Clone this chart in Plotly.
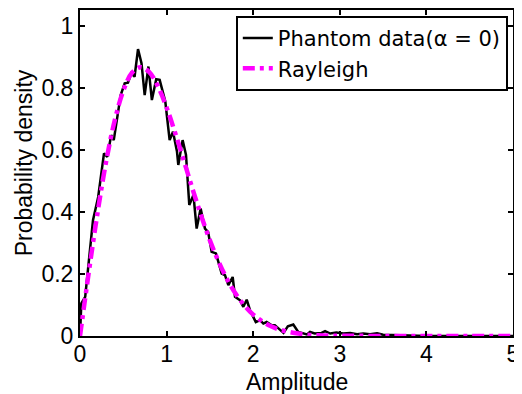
import plotly.graph_objects as go

# Phantom data (alpha = 0)
phantom_x = [0.0, 0.015, 0.06, 0.15, 0.21, 0.277, 0.315, 0.36, 0.39, 0.47, 0.516, 0.554,
             0.593, 0.63, 0.67, 0.71, 0.747, 0.79, 0.83, 0.88, 0.92, 0.985, 1.035, 1.074,
             1.12, 1.135, 1.185, 1.224, 1.262, 1.31, 1.347, 1.393, 1.443, 1.48, 1.52, 1.57,
             1.636, 1.674, 1.713, 1.763, 1.79, 1.848, 1.886, 1.925, 1.963, 2.0, 2.03, 2.08,
             2.117, 2.155, 2.21, 2.25, 2.29, 2.35, 2.40, 2.463, 2.52, 2.58, 2.62, 2.656,
             2.71, 2.79, 2.83, 2.89, 2.96, 3.04, 3.12, 3.2, 3.27, 3.35, 3.43, 3.5,
             3.6, 3.7, 3.8, 4.0, 4.5, 5.0]
phantom_y = [0.0, 0.105, 0.126, 0.373, 0.448, 0.588, 0.577, 0.647, 0.631, 0.776, 0.814, 0.816,
             0.846, 0.835, 0.924, 0.879, 0.776, 0.868, 0.76, 0.827, 0.825, 0.755, 0.631, 0.658,
             0.594, 0.551, 0.631, 0.583, 0.422, 0.454, 0.346, 0.411, 0.346, 0.335, 0.271, 0.266,
             0.201, 0.196, 0.164, 0.190, 0.126, 0.115, 0.094, 0.117, 0.083, 0.061, 0.045, 0.051,
             0.040, 0.045, 0.035, 0.035, 0.024, 0.010, 0.031, 0.037, 0.013, 0.008, 0.005, 0.013,
             0.008, 0.010, 0.016, 0.008, 0.011, 0.008, 0.010, 0.006, 0.008, 0.006, 0.009, 0.004,
             0.003, 0.002, 0.001, 0.0, 0.0, 0.0]

# Rayleigh fit
rayleigh_x = [0.0, 0.1, 0.2, 0.3, 0.4, 0.5, 0.6, 0.7, 0.8, 0.9, 1.0, 1.1, 1.2, 1.3, 1.4,
              1.5, 1.6, 1.7, 1.8, 1.9, 2.0, 2.1, 2.2, 2.3, 2.4, 2.5, 2.6, 2.7, 2.8, 2.9,
              3.0, 3.5, 4.0, 4.5, 5.0]
rayleigh_y = [0.0, 0.202, 0.392, 0.559, 0.693, 0.790, 0.848, 0.866, 0.850, 0.804, 0.736,
              0.653, 0.564, 0.473, 0.387, 0.308, 0.240, 0.182, 0.135, 0.098, 0.069, 0.048,
              0.032, 0.021, 0.014, 0.009, 0.005, 0.003, 0.002, 0.001, 0.001, 0.0, 0.0, 0.0, 0.0]

x_ticks = [0, 1, 2, 3, 4, 5]
y_ticks = [0, 0.2, 0.4, 0.6, 0.8, 1]
y_tick_labels = ["0", "0.2", "0.4", "0.6", "0.8", "1"]
x_title = "Amplitude"
y_title = "Probability density"

FONT = "Liberation Sans, Arial, sans-serif"
LEG_FONT = "DejaVu Sans, sans-serif"

fig = go.Figure()
fig.add_trace(go.Scatter(x=phantom_x, y=phantom_y, mode="lines",
                         name="Phantom data(α = 0)",
                         line=dict(color="black", width=2.5)))
fig.add_trace(go.Scatter(x=rayleigh_x, y=rayleigh_y, mode="lines",
                         name="Rayleigh", line_shape="spline",
                         line=dict(color="#ff00ff", width=4.5, dash="12px,5px,4px,5px")))

axis_common = dict(showline=True, linecolor="black", linewidth=2, mirror="ticks",
                   ticks="inside", ticklen=5, tickwidth=1.5, tickcolor="black",
                   showgrid=False, zeroline=False, automargin=False,
                   tickfont=dict(family=FONT, size=23, color="black"))

fig.update_xaxes(range=[0, 5], tickvals=x_ticks, ticklabelstandoff=-4, **axis_common)
fig.update_yaxes(range=[0, 1.05], tickvals=y_ticks, ticktext=y_tick_labels,
                 ticklabelstandoff=0, **axis_common)

# page has an 8px body margin: figure is drawn at (8, 8)
fig.add_annotation(text=x_title, xref="paper", yref="paper", x=0.5, y=-0.14,
                   xanchor="center", yanchor="middle", showarrow=False,
                   font=dict(family=FONT, size=23, color="black"))
fig.add_annotation(text=y_title, xref="paper", yref="paper", x=-0.129, y=0.53,
                   xanchor="center", yanchor="middle", showarrow=False, textangle=-90,
                   font=dict(family=FONT, size=23, color="black"))

fig.update_layout(
    width=514, height=386,
    margin=dict(l=72, r=9, t=2, b=58, autoexpand=False),
    paper_bgcolor="white", plot_bgcolor="white",
    font=dict(family=FONT, size=23, color="black"),
    legend=dict(x=0.988, y=0.982, xanchor="right", yanchor="top",
                bgcolor="white", bordercolor="black", borderwidth=2,
                font=dict(family=LEG_FONT, size=21, color="black"),
                tracegroupgap=0, itemwidth=30),
    showlegend=True,
)

fig.write_html("out.html")
